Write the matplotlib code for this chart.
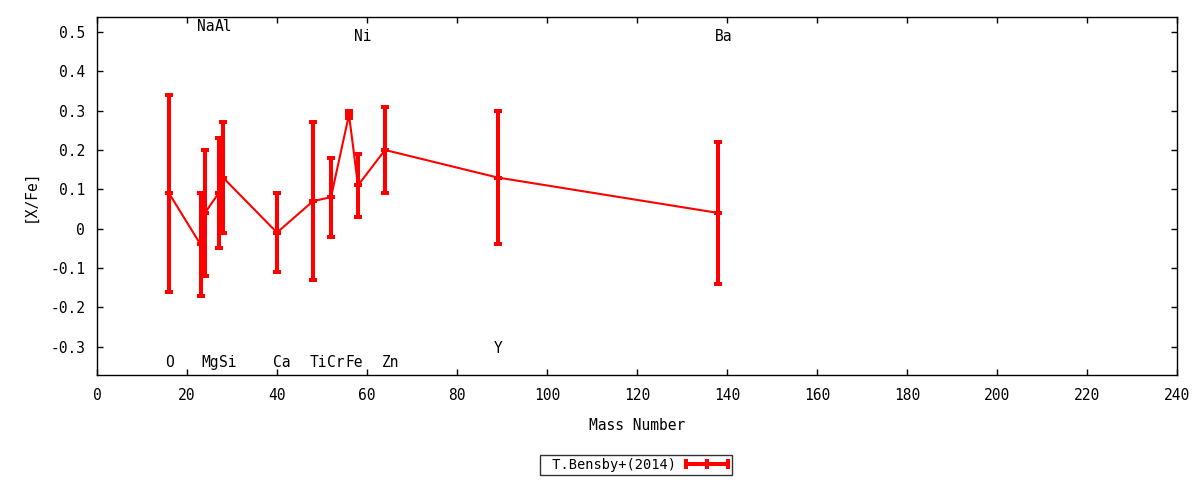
import matplotlib
matplotlib.use("Agg")
import matplotlib.pyplot as plt
from matplotlib.lines import Line2D
from matplotlib.legend_handler import HandlerLine2D

# ---- data ----
elements = ['O', 'Na', 'Mg', 'Al', 'Si', 'Ca', 'Ti', 'Cr', 'Fe', 'Ni', 'Zn', 'Y', 'Ba']
mass = [16, 23, 24, 27, 28, 40, 48, 52, 56, 58, 64, 89, 138]
xfe = [0.09, -0.04, 0.04, 0.09, 0.13, -0.01, 0.07, 0.08, 0.29, 0.11, 0.20, 0.13, 0.04]
xfe_lo = [-0.16, -0.17, -0.12, -0.05, -0.01, -0.11, -0.13, -0.02, 0.282, 0.03, 0.09, -0.04, -0.14]
xfe_hi = [0.34, 0.09, 0.20, 0.23, 0.27, 0.09, 0.27, 0.18, 0.298, 0.19, 0.31, 0.30, 0.22]
label_y = [-0.34, 0.515, -0.34, 0.515, -0.34, -0.34, -0.34, -0.34, -0.34, 0.488, -0.34, -0.305, 0.488]
series_name = 'T.Bensby+(2014)'
xticks = list(range(0, 241, 20))
yticks = [-0.3, -0.2, -0.1, 0, 0.1, 0.2, 0.3, 0.4, 0.5]
ytick_labels = ['-0.3', '-0.2', '-0.1', '0', '0.1', '0.2', '0.3', '0.4', '0.5']

plt.rcParams['font.family'] = ['DejaVu Sans Mono']
FS = 10.5

fig = plt.figure(figsize=(12, 4.8), dpi=100)
ax = fig.add_axes([97/1200, 1 - 375/480, 1080/1200, 358/480])

red = '#ff0000'
yerr_low = [v - l for v, l in zip(xfe, xfe_lo)]
yerr_high = [h - v for v, h in zip(xfe, xfe_hi)]

ax.errorbar(mass, xfe, yerr=[yerr_low, yerr_high], color=red, lw=1.5,
            elinewidth=2.9, capsize=2.9, capthick=2.9,
            marker='_', markersize=5.8, markeredgewidth=2.9, zorder=3)

for el, m, ly in zip(elements, mass, label_y):
    ax.text(m - 0.8, ly, el, ha='left', va='center', fontsize=FS, color='black')

ax.set_xlim(0, 240)
ax.set_ylim(-0.372, 0.538)
ax.set_xticks(xticks)
ax.set_xticklabels([str(t) for t in xticks])
ax.set_yticks(yticks)
ax.set_yticklabels(ytick_labels)
ax.tick_params(direction='in', length=4, width=1, top=True, right=True,
               labelsize=FS, colors='black')
ax.tick_params(axis='y', pad=8.5)
ax.tick_params(axis='x', pad=9)
for s in ax.spines.values():
    s.set_linewidth(1)
    s.set_color('black')

ax.set_xlabel('Mass Number', fontsize=FS, labelpad=11)
ax.set_ylabel('[X/Fe]', fontsize=FS, labelpad=9)

handle = Line2D([], [], color=red, lw=2.9, marker='|', markersize=7,
                markeredgewidth=2.9)
LFS = 9.8
leg = fig.legend([handle], [' ' + series_name], loc='center',
                 bbox_to_anchor=(636/1200, 1 - 465/480),
                 handler_map={handle: HandlerLine2D(marker_pad=0, numpoints=3)},
                 markerfirst=False, fontsize=LFS, frameon=True,
                 fancybox=False, edgecolor='black', handlelength=3.1,
                 borderpad=0.25, handletextpad=0.75, borderaxespad=0)
leg.get_frame().set_linewidth(1)

fig.savefig('out.png', dpi=100)
